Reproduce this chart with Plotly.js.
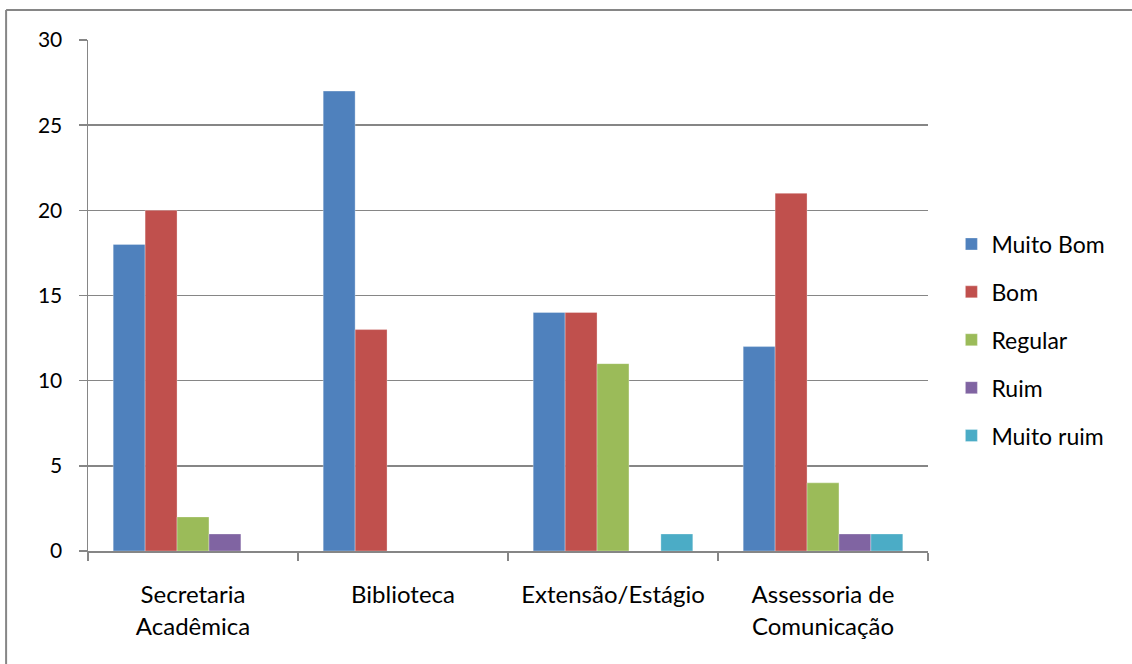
<!DOCTYPE html>
<html>
<head>
<meta charset="utf-8">
<script src="https://cdn.plot.ly/plotly-3.0.1.min.js"></script>
<style>html,body{margin:0;padding:0;background:#fff;}#chart{width:1132px;height:664px;}</style>
</head>
<body>
<div id="chart"></div>
<script>
const categories = ["Secretaria<br>Acadêmica", "Biblioteca", "Extensão/Estágio", "Assessoria de<br>Comunicação"];
const seriesNames = ["Muito Bom", "Bom", "Regular", "Ruim", "Muito ruim"];
const muitoBom = [18, 27, 14, 12];
const bom = [20, 13, 14, 21];
const regular = [2, 0, 11, 4];
const ruim = [1, 0, 0, 1];
const muitoRuim = [0, 0, 1, 1];
const colors = ["#4F81BD", "#C0504D", "#9BBB59", "#8064A2", "#4BACC6"];
const yTicks = [0, 5, 10, 15, 20, 25, 30];

const allValues = [muitoBom, bom, regular, ruim, muitoRuim];
const data = allValues.map((vals, i) => ({
  type: "bar",
  name: seriesNames[i],
  legendgroup: "g" + i,
  x: categories,
  y: vals.map(v => v === 0 ? null : v),
  marker: {color: colors[i], line: {color: "rgba(255,255,255,0.5)", width: 0.6}},
  hoverinfo: "y+name"
}));

const font = "Lato, 'Open Sans', sans-serif";
const layout = {
  width: 1132, height: 664,
  margin: {l: 88, r: 204, t: 40, b: 113},
  paper_bgcolor: "#fff", plot_bgcolor: "#fff",
  barmode: "group", bargap: 0.24, bargroupgap: 0,
  font: {family: font, size: 23, color: "#000"},
  showlegend: true,
  legend: {x: 1 + 23.4 / 840, xref: "paper", y: 0.4129, xanchor: "left", yanchor: "middle",
    font: {family: font, size: 23, color: "#000"}, tracegroupgap: 15,
    itemwidth: 30, traceorder: "grouped"},
  xaxis: {type: "category", showgrid: false, showline: true, linecolor: "#868686", linewidth: 1.5,
    ticks: "outside", ticklen: 8, tickcolor: "#868686", tickwidth: 1.5, tickson: "boundaries",
    tickfont: {family: font, size: 24}, ticklabelstandoff: 22, fixedrange: true},
  yaxis: {range: [0, 30], tickvals: yTicks, showgrid: true, gridcolor: "#868686", gridwidth: 1.5,
    showline: true, linecolor: "#868686", linewidth: 1.5, zeroline: false,
    ticks: "outside", ticklen: 8, tickcolor: "#868686", tickwidth: 1.5,
    tickfont: {family: font, size: 21}, ticklabelstandoff: 12},
  shapes: [
    {type: "line", xref: "paper", yref: "paper", x0: -0.0975, x1: 1.3, y0: 1.0585, y1: 1.0585,
      line: {color: "#868686", width: 2}},
    {type: "line", xref: "paper", yref: "paper", x0: -0.0975, x1: -0.0975, y0: -0.3, y1: 1.0585,
      line: {color: "#868686", width: 2}}
  ]
};
Plotly.newPlot("chart", data, layout, {displayModeBar: false, staticPlot: true});
</script>
</body>
</html>
